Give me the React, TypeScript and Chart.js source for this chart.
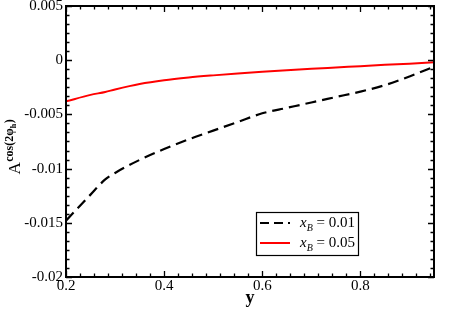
import { useEffect, useRef } from "react";
import { Chart, registerables } from "chart.js";

Chart.register(...registerables);

// ---- data ----
const Y_VALUES = [0.2, 0.25, 0.28, 0.3, 0.35, 0.4, 0.45, 0.5, 0.55, 0.6, 0.65, 0.7, 0.75, 0.8, 0.85, 0.9, 0.95];
const A_XB_001 = [-0.0148, -0.0124, -0.011, -0.0104, -0.0092, -0.0082, -0.0073, -0.0065, -0.0057, -0.0049, -0.0044, -0.0039, -0.0034, -0.0029, -0.0023, -0.0015, -0.0006];
const A_XB_005 = [-0.0038, -0.0032, -0.00293, -0.0027, -0.0022, -0.00185, -0.0016, -0.0014, -0.00122, -0.00106, -0.00092, -0.00079, -0.00067, -0.00055, -0.00043, -0.00032, -0.0002];
const SERIES_LABELS = ["0.01", "0.05"];

const X_TICKS = [0.2, 0.4, 0.6, 0.8];
const X_TICK_LABELS = ["0.2", "0.4", "0.6", "0.8"];
const Y_TICKS = [-0.02, -0.015, -0.01, -0.005, 0, 0.005];
const Y_TICK_LABELS = ["-0.02", "-0.015", "-0.01", "-0.005", "0", "0.005"];
const X_MIN = 0.2;
const X_MAX = 0.95;
const Y_MIN = -0.02;
const Y_MAX = 0.005;
const X_MINOR_DIV = 7;
const Y_MINOR_DIV = 6;

const FONT = "'Liberation Serif', 'DejaVu Serif', serif";
const DASH = [11, 6];

const decorPlugin = {
  id: "decor",
  afterDraw(chart: any) {
    const { ctx, chartArea: a, scales } = chart;
    const xs = scales.x;
    const ys = scales.y;
    ctx.save();
    ctx.strokeStyle = "#000";
    ctx.fillStyle = "#000";

    // ticks (inward, all four sides)
    ctx.lineWidth = 1.3;
    const MAJ = 6;
    const MIN = 3.5;
    const xStep = X_TICKS[1] - X_TICKS[0];
    const xMinor = xStep / X_MINOR_DIV;
    for (let i = 0; ; i++) {
      const v = X_MIN + i * xMinor;
      if (v > X_MAX + 1e-9) break;
      const isMajor = i % X_MINOR_DIV === 0;
      const len = isMajor ? MAJ : MIN;
      const px = Math.round(xs.getPixelForValue(v)) + 0.5;
      ctx.beginPath();
      ctx.moveTo(px, a.bottom);
      ctx.lineTo(px, a.bottom - len);
      ctx.moveTo(px, a.top);
      ctx.lineTo(px, a.top + len);
      ctx.stroke();
    }
    const yStep = Y_TICKS[1] - Y_TICKS[0];
    const yMinor = yStep / Y_MINOR_DIV;
    for (let i = 0; ; i++) {
      const v = Y_MIN + i * yMinor;
      if (v > Y_MAX + 1e-12) break;
      const isMajor = i % Y_MINOR_DIV === 0;
      const len = isMajor ? MAJ : MIN;
      const py = Math.round(ys.getPixelForValue(v)) + 0.5;
      ctx.beginPath();
      ctx.moveTo(a.left, py);
      ctx.lineTo(a.left + len, py);
      ctx.moveTo(a.right, py);
      ctx.lineTo(a.right - len, py);
      ctx.stroke();
    }

    // frame
    ctx.lineWidth = 2;
    ctx.strokeRect(a.left, a.top, a.right - a.left, a.bottom - a.top);

    // legend
    const lx = a.left + 190;
    const ly = a.top + 206;
    const lw = 102;
    const lh = 43;
    ctx.fillStyle = "#fff";
    ctx.fillRect(lx, ly, lw, lh);
    ctx.lineWidth = 1.2;
    ctx.strokeStyle = "#000";
    ctx.strokeRect(lx + 0.5, ly + 0.5, lw, lh);
    const rows = [
      { color: "#000", dash: [9, 5], width: 2.2, label: SERIES_LABELS[0] },
      { color: "#ff0000", dash: [], width: 2, label: SERIES_LABELS[1] },
    ];
    rows.forEach((r, i) => {
      const cy = ly + 11 + i * 20;
      ctx.beginPath();
      ctx.setLineDash(r.dash);
      ctx.strokeStyle = r.color;
      ctx.lineWidth = r.width;
      ctx.moveTo(lx + 4, cy);
      ctx.lineTo(lx + 34, cy);
      ctx.stroke();
      ctx.setLineDash([]);
      ctx.fillStyle = "#000";
      ctx.textBaseline = "alphabetic";
      ctx.textAlign = "left";
      let tx = lx + 44;
      const by = cy + 4;
      ctx.font = `italic 15px ${FONT}`;
      ctx.fillText("x", tx, by);
      tx += ctx.measureText("x").width;
      ctx.font = `italic 10px ${FONT}`;
      ctx.fillText("B", tx, by + 4);
      tx += ctx.measureText("B").width;
      ctx.font = `15px ${FONT}`;
      ctx.fillText(" = " + r.label, tx, by);
    });

    // x title
    ctx.fillStyle = "#000";
    ctx.font = `bold 18px ${FONT}`;
    ctx.textAlign = "center";
    ctx.textBaseline = "alphabetic";
    ctx.fillText("y", (a.left + a.right) / 2, 303);

    // y title (rotated)
    ctx.save();
    ctx.translate(20, (a.top + a.bottom) / 2);
    ctx.rotate(-Math.PI / 2);
    ctx.textAlign = "left";
    let t = -33;
    ctx.font = `17px ${FONT}`;
    ctx.fillText("A", t, 0);
    t += ctx.measureText("A").width + 0.5;
    ctx.font = `bold 12px ${FONT}`;
    ctx.fillText("cos(2\u03C6", t, -7);
    t += ctx.measureText("cos(2\u03C6").width;
    ctx.font = `bold 8px ${FONT}`;
    ctx.fillText("h", t, -4);
    t += ctx.measureText("h").width + 0.5;
    ctx.font = `bold 12px ${FONT}`;
    ctx.fillText(")", t, -7);
    ctx.restore();

    ctx.restore();
  },
};

export default function App() {
  const ref = useRef<HTMLCanvasElement | null>(null);
  useEffect(() => {
    if (!ref.current) return;
    const chart = new Chart(ref.current, {
      type: "line",
      data: {
        datasets: [
          {
            label: "xB = " + SERIES_LABELS[0],
            data: Y_VALUES.map((x, i) => ({ x, y: A_XB_001[i] })),
            borderColor: "#000",
            borderWidth: 2.2,
            borderDash: DASH,
            pointRadius: 0,
            cubicInterpolationMode: "monotone",
            fill: false,
          },
          {
            label: "xB = " + SERIES_LABELS[1],
            data: Y_VALUES.map((x, i) => ({ x, y: A_XB_005[i] })),
            borderColor: "#ff0000",
            borderWidth: 2,
            pointRadius: 0,
            cubicInterpolationMode: "monotone",
            fill: false,
          },
        ],
      },
      options: {
        animation: false,
        responsive: false,
        devicePixelRatio: 1,
        layout: { padding: { left: 0, top: 6, right: 29, bottom: 0 } },
        plugins: { legend: { display: false }, tooltip: { enabled: false } },
        scales: {
          x: {
            type: "linear",
            min: X_MIN,
            max: X_MAX,
            afterBuildTicks: (s: any) => {
              s.ticks = X_TICKS.map((v) => ({ value: v }));
            },
            afterFit: (s: any) => {
              s.height = 50;
              s.paddingLeft = 0;
              s.paddingRight = 0;
              s.paddingTop = 0;
              s.paddingBottom = 0;
            },
            ticks: {
              callback: (v: any) => X_TICK_LABELS[X_TICKS.indexOf(v)] ?? "",
              padding: 0,
              color: "#000",
              font: { family: FONT, size: 15 },
              maxRotation: 0,
              autoSkip: false,
            },
            grid: { display: false, drawTicks: false },
            border: { display: false },
          },
          y: {
            type: "linear",
            min: Y_MIN,
            max: Y_MAX,
            afterBuildTicks: (s: any) => {
              s.ticks = Y_TICKS.map((v) => ({ value: v }));
            },
            afterFit: (s: any) => {
              s.width = 66;
              s.paddingLeft = 0;
              s.paddingRight = 0;
              s.paddingTop = 0;
              s.paddingBottom = 0;
            },
            ticks: {
              callback: (v: any) => Y_TICK_LABELS[Y_TICKS.indexOf(v)] ?? "",
              padding: 3,
              color: "#000",
              font: { family: FONT, size: 15 },
              autoSkip: false,
            },
            grid: { display: false, drawTicks: false },
            border: { display: false },
          },
        },
      },
      plugins: [decorPlugin],
    });
    return () => chart.destroy();
  }, []);
  return (
    <div style={{ position: "absolute", left: 0, top: 0, width: 463, height: 327, background: "#fff" }}>
      <canvas ref={ref} width={463} height={327} style={{ display: "block" }} />
    </div>
  );
}
